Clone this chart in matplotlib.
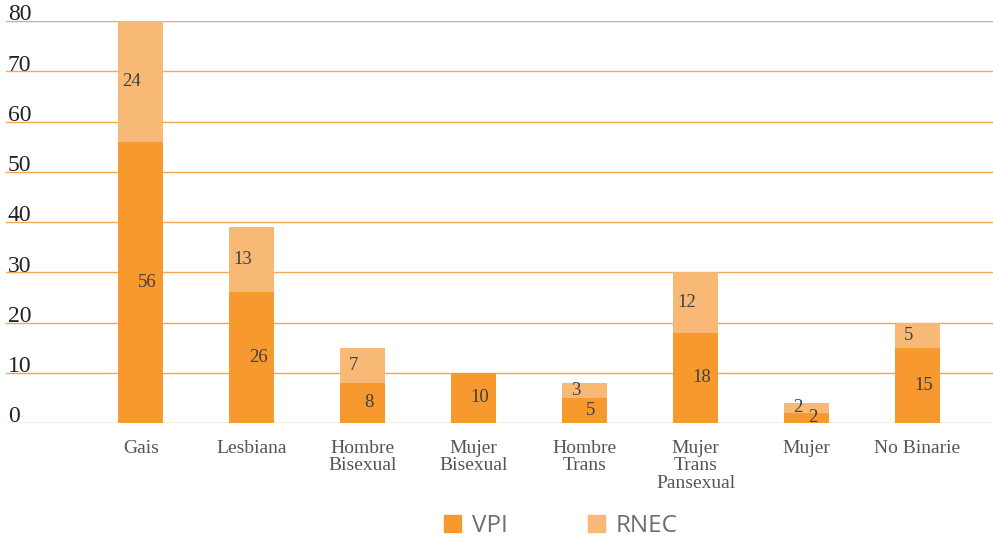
import matplotlib

matplotlib.use("Agg")
import matplotlib.pyplot as plt
from matplotlib.patches import Patch
from matplotlib.transforms import offset_copy

categories = ["Gais", "Lesbiana", "Hombre\nBisexual", "Mujer\nBisexual",
              "Hombre\nTrans", "Mujer\nTrans\nPansexual", "Mujer", "No Binarie"]
vpi = [56, 26, 8, 10, 5, 18, 2, 15]
rnec = [24, 13, 7, 0, 3, 12, 2, 5]
y_ticks = [0, 10, 20, 30, 40, 50, 60, 70, 80]

VPI_COLOR = "#F7992F"
RNEC_COLOR = "#F8B977"
GRID_COLOR = "#F6A650"
TEXT_COLOR = "#404040"
SERIF = "Liberation Serif"

fig = plt.figure(figsize=(9.93, 5.39), dpi=100)
ax = fig.add_axes([6 / 993, 116 / 539, 987 / 993, 402 / 539])

x = list(range(len(categories)))
width = 0.405
ax.bar(x, vpi, width=width, color=VPI_COLOR, zorder=2)
ax.bar(x, rnec, width=width, bottom=vpi, color=RNEC_COLOR, zorder=2)

ax.set_xlim(-1.216, 7.68)
ax.set_ylim(0, 80)

for t in y_ticks:
    ax.axhline(t, color=GRID_COLOR, linewidth=1.0, zorder=1)
    ax.text(0.002, t, str(t), transform=offset_copy(ax.get_yaxis_transform(), fig=fig, x=0, y=0.5, units="points"),
            ha="left", va="baseline", fontsize=17, family=SERIF, color="#222222")

# value labels inside the bar segments
for i, (a, b) in enumerate(zip(vpi, rnec)):
    if a:
        ax.text(i, a / 2, str(a),
                transform=offset_copy(ax.transData, fig=fig, x=4.5, y=0, units="points"),
                ha="center", va="center", fontsize=13.5, family=SERIF, color=TEXT_COLOR, zorder=3)
    if b:
        ax.text(i, a + b / 2, str(b),
                transform=offset_copy(ax.transData, fig=fig, x=-6.5, y=0, units="points"),
                ha="center", va="center", fontsize=13.5, family=SERIF, color=TEXT_COLOR, zorder=3)

ax.set_xticks(x)
ax.set_xticklabels(categories, fontsize=14, family=SERIF, color="#555555", linespacing=1.05)
ax.tick_params(axis="x", length=0, pad=12)
ax.set_yticks([])
for s in ax.spines.values():
    s.set_visible(False)

handles = [Patch(color=VPI_COLOR, label="VPI"), Patch(color=RNEC_COLOR, label="RNEC")]
leg = fig.legend(handles=handles, loc="center", bbox_to_anchor=(0.565, 0.024), ncol=2, frameon=False,
                 handlelength=0.7, handleheight=0.7, handletextpad=0.45, columnspacing=3.3,
                 prop={"family": "Open Sans", "size": 17.5})
for t in leg.get_texts():
    t.set_color("#6E6E72")

fig.savefig("out.png", dpi=100)
